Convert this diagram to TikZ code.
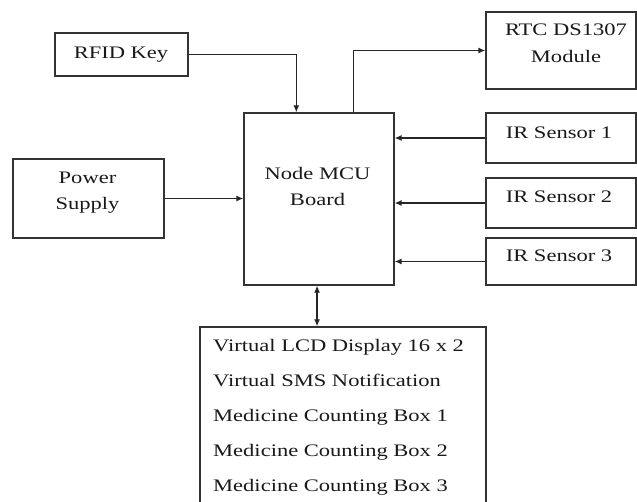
\documentclass[tikz,border=0pt]{standalone}
\usepackage{fontspec}
\setmainfont{Liberation Serif}[FakeStretch=1.28]
\usetikzlibrary{arrows.meta, calc}
\tikzset{
  blk/.style={
    rectangle, draw=black!80, line width=1.3pt, fill=white,
    inner sep=0pt,
  },
  txt/.style={
    font=\fontsize{17.6pt}{26.5pt}\selectfont, text=black!90,
    align=center, inner sep=0pt,
  },
  listtxt/.style={
    font=\fontsize{17.6pt}{35pt}\selectfont, text=black!90,
    align=left, inner sep=0pt,
  },
  arrow/.style={
    -{Latex[length=7pt,width=6pt]}, line width=1.2pt, draw=black!85,
  },
  dblarrow/.style={
    {Latex[length=7pt,width=6pt]}-{Latex[length=7pt,width=6pt]},
    line width=1.2pt, draw=black!85,
  }
}

\begin{document}
\begin{tikzpicture}[x=1pt, y=-1pt]

  \useasboundingbox (0,0) rectangle (637,502);

  % blocks
  \node[blk, minimum width=133pt, minimum height=43pt]  (rfid)  at (121.5,54.5) {};
  \node[blk, minimum width=151pt, minimum height=79pt]  (power) at (88.5,198.5) {};
  \node[blk, minimum width=150pt, minimum height=172pt] (mcu)   at (319,199)    {};
  \node[blk, minimum width=150pt, minimum height=77pt]  (rtc)   at (561,50.5)   {};
  \node[blk, minimum width=150pt, minimum height=50pt]  (ir1)   at (561,138)    {};
  \node[blk, minimum width=150pt, minimum height=50pt]  (ir2)   at (561,203)    {};
  \node[blk, minimum width=150pt, minimum height=47pt]  (ir3)   at (561,261.5)  {};
  \node[blk, minimum width=286pt, minimum height=188pt] (outbox) at (343,421)   {};

  % labels
  \node[txt, anchor=base]  (rfidtxt)  at (121,59)    {RFID Key};
  \node[txt, anchor=north] (powertxt) at (87.5,171.3) {Power\\Supply};
  \node[txt, anchor=north] (mcutxt)   at (317.5,167)  {Node MCU\\Board};
  \node[txt, anchor=north] (rtctxt)   at (566,24)     {RTC DS1307\\Module};
  \node[txt, anchor=base]  (ir1txt)   at (559,139)    {IR Sensor 1};
  \node[txt, anchor=base]  (ir2txt)   at (559,203)    {IR Sensor 2};
  \node[txt, anchor=base]  (ir3txt)   at (559,262)    {IR Sensor 3};
  \node[listtxt, anchor=north west] (outtxt) at (213,339)
    {Virtual LCD Display 16 x 2\\Virtual SMS Notification\\
     Medicine Counting Box 1\\Medicine Counting Box 2\\
     Medicine Counting Box 3};

  % connections
  \coordinate (rfidin) at ($(mcu.north west)!0.35!(mcu.north east)$);
  \coordinate (rtcout) at ($(mcu.north west)!0.73!(mcu.north east)$);
  \coordinate (outlink) at ($(mcu.south west)!0.487!(mcu.south east)$);

  \draw[arrow] (rfid.east) -| (rfidin);
  \draw[arrow] (rtcout) |- (rtc.west);
  \draw[arrow] (power.east) -- (mcu.west |- power.east);
  \draw[arrow] (ir1.west) -- (mcu.east |- ir1.west);
  \draw[arrow] (ir2.west) -- (mcu.east |- ir2.west);
  \draw[arrow] (ir3.west) -- (mcu.east |- ir3.west);
  \draw[dblarrow] (outlink) -- (outlink |- outbox.north);

\end{tikzpicture}
\end{document}
